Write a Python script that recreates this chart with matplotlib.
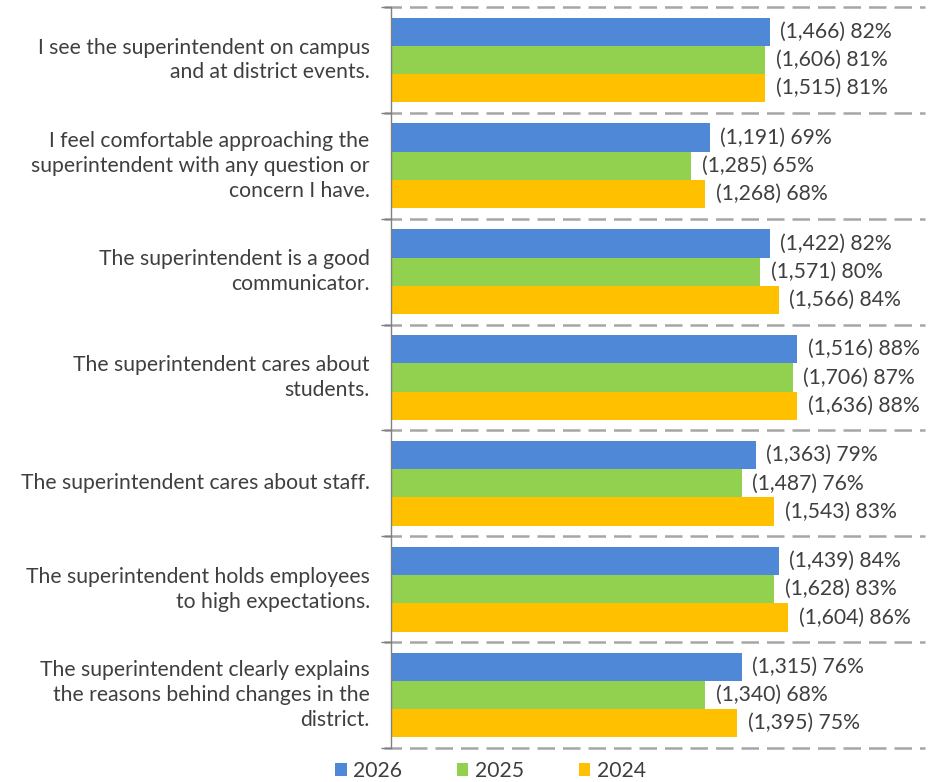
import matplotlib
matplotlib.use("Agg")
import matplotlib.pyplot as plt
import numpy as np

categories = [
    "I see the superintendent on campus\nand at district events.",
    "I feel comfortable approaching the\nsuperintendent with any question or\nconcern I have.",
    "The superintendent is a good\ncommunicator.",
    "The superintendent cares about\nstudents.",
    "The superintendent cares about staff.",
    "The superintendent holds employees\nto high expectations.",
    "The superintendent clearly explains\nthe reasons behind changes in the\ndistrict.",
]
series_names = ["2026", "2025", "2024"]
pct_2026 = [82, 69, 82, 88, 79, 84, 76]
pct_2025 = [81, 65, 80, 87, 76, 83, 68]
pct_2024 = [81, 68, 84, 88, 83, 86, 75]
n_2026 = [1466, 1191, 1422, 1516, 1363, 1439, 1315]
n_2025 = [1606, 1285, 1571, 1706, 1487, 1628, 1340]
n_2024 = [1515, 1268, 1566, 1636, 1543, 1604, 1395]
colors = ["#4F88D6", "#92D050", "#FFC000"]

plt.rcParams["font.family"] = ["Lato", "DejaVu Sans"]
text_color = "#3F3F3F"
fs = 15.2

fig = plt.figure(figsize=(9.34, 7.82), dpi=100)
ax = fig.add_axes([0.4186, 0.0435, 0.5714, 0.9475])

ncat = len(categories)
bar_h = 0.8 / 3
centers = np.arange(ncat)
pcts = [pct_2026, pct_2025, pct_2024]
counts = [n_2026, n_2025, n_2024]
for s in range(3):
    y = centers + (s - 1) * bar_h
    ax.barh(y, pcts[s], height=bar_h, color=colors[s], label=series_names[s])
    for yi, p, n in zip(y, pcts[s], counts[s]):
        ax.text(p + 2.3, yi, f"({n:,}) {p}%", va="center", ha="left",
                fontsize=fs, color=text_color)

ax.set_ylim(ncat - 0.5, -0.5)
ax.set_xlim(0, 115.6)

# dashed separators between groups
for b in np.arange(-0.5, ncat, 1.0):
    ax.plot([-1.6, 115.6], [b, b], color="#A6A6A6", lw=1.8,
            dashes=(7, 3.2), clip_on=False, zorder=0)

for sp in ["top", "right", "bottom"]:
    ax.spines[sp].set_visible(False)
ax.spines["left"].set_color("#808080")
ax.spines["left"].set_linewidth(1.0)
ax.set_xticks([])
ax.set_yticks(np.arange(-0.5, ncat, 1.0), minor=False)
ax.set_yticklabels([])
ax.tick_params(axis="y", length=7, color="#808080", width=1.0)

for i, c in enumerate(categories):
    ax.text(-4.6, i, c, ha="right", va="center", fontsize=fs,
            color=text_color, linespacing=1.3)

handles, labels = ax.get_legend_handles_labels()
fig.legend(handles, labels, loc="center", bbox_to_anchor=(0.525, 0.014),
           ncol=3, frameon=False, fontsize=fs, labelcolor=text_color,
           handlelength=0.55, handleheight=0.55, handletextpad=0.3,
           columnspacing=2.6)

fig.savefig("out.png", dpi=100)
